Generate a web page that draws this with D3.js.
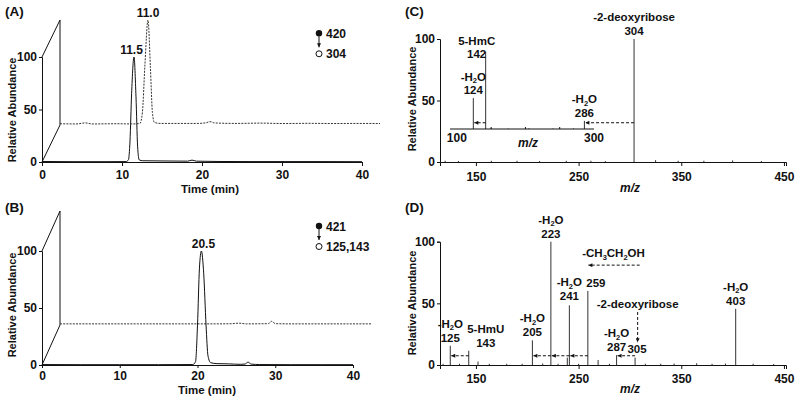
<!DOCTYPE html>
<html>
<head>
<meta charset="utf-8">
<script src="https://cdn.jsdelivr.net/npm/d3@7"></script>
<style>
body{margin:0;background:#fff}
text{font-family:"Liberation Sans",Arial,sans-serif;font-weight:bold;fill:#111;font-size:11.5px}
.trace{fill:none;stroke:#111;stroke-width:1}
.back{fill:none;stroke:#333;stroke-width:1;stroke-dasharray:2,1.2}
.frame{stroke:#111;stroke-width:1;fill:none}
.peak{stroke:#333;stroke-width:1}
.arrow{stroke:#111;stroke-width:1;stroke-dasharray:3,2;fill:none}
.axis path,.axis line{stroke:#111}
</style>
</head>
<body>
<script>
var w = 800;
var h = 401;
var svg = d3.select("body")
	.append("svg")
	.attr("width", w)
	.attr("height", h);

// ---- data ----
var timeTicks = [0,10,20,30,40];
var abTicks = [0,50,100];
var mzTicks = [150,250,350,450];
var insetTicks = [100,300];
var insetMinor = [150,200,250];

// (A) 420 -> 304, front trace (solid) and back trace (dashed) : [min, %]
var chromAFront = [[0,0.5],[4,0.3],[8,0.3],[10.5,0.4],[10.8,2],[11.0,20],[11.2,65],[11.5,100],[11.75,62],[11.95,15],[12.15,2],[12.6,1.2],[15,1],[18.2,0.8],[18.75,1.8],[19.3,0.8],[22,0.5],[26,0.4],[30,0.4],[35,0.4],[40,0.3]];
var chromABack = [[0,1.2],[2,1],[3.2,2],[4,1],[7,1.2],[9,1],[10.0,1.5],[10.3,12],[10.6,55],[11.0,100],[11.3,55],[11.55,12],[11.8,2.5],[12.5,1.5],[15,1.5],[17,1.5],[18.2,2],[18.75,3.2],[19.3,2],[22,1.5],[25,1.8],[28,1.4],[31,1.6],[34,1.4],[37,1.5],[40,1.4]];
// (B) 421 -> 125,143
var chromBFront = [[0,0.4],[5,0.3],[10,0.3],[15,0.3],[19.4,0.4],[19.75,3],[20.0,35],[20.25,85],[20.5,100],[20.8,80],[21.1,35],[21.35,8],[21.7,2],[22.5,1.2],[24,1],[25.5,0.6],[26.1,0.8],[26.5,2.5],[26.9,0.8],[28,0.4],[32,0.3],[36,0.3],[40,0.3]];
var chromBBack = [[0,1],[5,1],[10,1],[15,1],[20,1],[22,1.1],[23,1.6],[24,1],[26,1.1],[26.8,1.2],[27.2,3.2],[27.7,1.2],[29,1],[33,1],[37,1],[40,1]];

// (C) product ions of 420 -> 304 : [m/z, %]
var specC = [[120,1],[133,0.8],[165,1],[190,1],[212,0.8],[238,1],[262,1],[276,0.8],[304,100],[325,1.5],[347,1],[372,1],[400,1.3],[428,0.8]];
var specCInset = [[124,40],[142,100],[286,10.5],[150,0.8],[175,0.6],[205,0.8],[240,0.6],[270,0.8]];
// (D) product ions of 421
var specD = [[118,1],[125,15.6],[134,1],[143,11.6],[152,2.8],[163,1],[180,1],[195,1],[205,20],[215,1.2],[223,100],[230,1],[239,6],[241,48.4],[250,1],[259,60],[269,4],[280,1],[287,8],[305,6],[315,1],[330,1],[343,1.2],[365,1.4],[380,1],[393,1.2],[403,45.6],[420,1],[440,0.8]];

// peak annotations : m/z, label lines
var labelsC = [{mz:304, lines:["-2-deoxyribose","304"]}];
var labelsCInset = [{mz:124, lines:["-H_2O","124"]},{mz:142, lines:["5-HmC","142"], dx:-9, dy:10.5},{mz:286, lines:["-H_2O","286"]}];
var labelsD = [
	{mz:125, lines:["-H_2O","125"]},
	{mz:143, lines:["5-HmU","143"], dx:17},
	{mz:205, lines:["-H_2O","205"]},
	{mz:223, lines:["-H_2O","223"]},
	{mz:241, lines:["-H_2O","241"], dy:-1},
	{mz:287, lines:["-H_2O","287"]},
	{mz:403, lines:["-H_2O","403"]}
];

// ---- helpers ----
var defs = svg.append("defs");
defs.append("marker")
	.attr("id","ah")
	.attr("viewBox","0 0 6 6")
	.attr("refX",6).attr("refY",3)
	.attr("markerWidth",5).attr("markerHeight",4)
	.attr("markerUnits","userSpaceOnUse")
	.attr("orient","auto")
	.append("path").attr("d","M0,0L6,3L0,6z").attr("fill","#111");

// "_" makes the next character a subscript
function richText(t, str){
	var parts = str.split("_");
	t.append("tspan").text(parts[0]);
	for (var i = 1; i < parts.length; i++) {
		t.append("tspan").attr("dy",2.5).style("font-size","7.5px").text(parts[i][0]);
		t.append("tspan").attr("dy",-2.5).text(parts[i].slice(1));
	}
}

function label(g, x, y, lines, gap){
	for (var i = 0; i < lines.length; i++) {
		var t = g.append("text")
			.attr("x", x)
			.attr("y", y - (lines.length-1-i)*gap)
			.attr("text-anchor","middle");
		richText(t, lines[i]);
	}
}

function panelLetter(x, y, s){
	svg.append("text").attr("x",x).attr("y",y).style("font-size","13.5px").text(s);
}

function yTitle(x, y){
	svg.append("text")
		.attr("transform","translate("+x+","+y+") rotate(-90)")
		.attr("text-anchor","middle")
		.style("font-size","11px")
		.text("Relative Abundance");
}

function styleAxis(g){
	g.selectAll("text").style("font-size","12px").style("font-family",null).attr("fill","#111");
}

// ---- chromatogram panel ----
function chromPanel(o){
	var x = d3.scaleLinear().domain([0,40]).range(o.xr);
	var y = d3.scaleLinear().domain([0,100]).range(o.yr);
	var g = svg.append("g");
	var dx = o.off[0], dy = o.off[1];

	// 3d frame
	g.append("line").attr("class","frame")
		.attr("x1",x(0)).attr("y1",y(100)).attr("x2",x(0)+dx).attr("y2",y(100)+dy);
	g.append("line").attr("class","frame")
		.attr("x1",x(0)).attr("y1",y(0)).attr("x2",x(0)+dx).attr("y2",y(0)+dy);
	g.append("line").attr("class","frame")
		.attr("x1",x(0)+dx).attr("y1",y(0)+dy).attr("x2",x(0)+dx).attr("y2",y(100)+dy);

	var line = d3.line()
		.x(function(d){ return x(d[0]); })
		.y(function(d){ return y(d[1]); })
		.curve(d3.curveMonotoneX);

	var back = g.append("g").attr("transform","translate("+dx+","+dy+")");
	back.append("path").attr("class","back").attr("d", line(o.back));
	g.append("path").attr("class","trace").attr("d", line(o.front));

	g.append("g").attr("class","axis")
		.attr("transform","translate(0,"+y(0)+")")
		.call(d3.axisBottom(x).tickValues(timeTicks).tickSizeOuter(0).tickSize(o.tk).tickPadding(o.tp))
		.call(styleAxis);
	g.append("g").attr("class","axis")
		.attr("transform","translate("+x(0)+",0)")
		.call(d3.axisLeft(y).tickValues(abTicks).tickSizeOuter(0).tickSize(3).tickPadding(2))
		.call(styleAxis);

	// retention time labels
	o.peaks.forEach(function(p){
		var ox = p.back ? dx : 0, oy = p.back ? dy : 0;
		g.append("text")
			.attr("x", x(p.t)+ox+(p.dx||0))
			.attr("y", y(p.v)+oy-3)
			.attr("text-anchor","middle")
			.style("font-size","12px")
			.text(p.text);
	});

	// transition legend
	var lx = o.legend[0], ly = o.legend[1];
	g.append("circle").attr("cx",lx).attr("cy",ly).attr("r",3.2).attr("fill","#111");
	g.append("line").attr("x1",lx).attr("y1",ly+3).attr("x2",lx).attr("y2",ly+14)
		.attr("stroke","#111").attr("marker-end","url(#ah)");
	g.append("circle").attr("cx",lx).attr("cy",ly+20.5).attr("r",3).attr("fill","#fff").attr("stroke","#111");
	g.append("text").attr("x",lx+7).attr("y",ly+4.5).style("font-size","12px").text(o.ions[0]);
	g.append("text").attr("x",lx+7).attr("y",ly+25).style("font-size","12px").text(o.ions[1]);

	g.append("text").attr("x",o.xt[0]).attr("y",o.xt[1]).attr("text-anchor","middle")
		.style("font-size","11.5px").text("Time (min)");
}

// ---- spectrum panel ----
function specPanel(o){
	var x = d3.scaleLinear().domain([115,452]).range([440,786]);
	var y = d3.scaleLinear().domain([0,100]).range(o.yr);
	var g = svg.append("g");

	g.selectAll("line.peak")
		.data(o.data)
		.enter()
		.append("line")
		.attr("class","peak")
		.attr("x1",function(d){ return x(d[0]); })
		.attr("x2",function(d){ return x(d[0]); })
		.attr("y1",y(0))
		.attr("y2",function(d){ return y(d[1]); });

	g.append("g").attr("class","axis")
		.attr("transform","translate(0,"+y(0)+")")
		.call(d3.axisBottom(x).tickValues(mzTicks).tickSizeOuter(0).tickSize(4).tickPadding(o.tp))
		.call(styleAxis);
	g.append("g").attr("class","axis")
		.attr("transform","translate("+x(115)+",0)")
		.call(d3.axisLeft(y).tickValues(abTicks).tickSizeOuter(0).tickSize(3).tickPadding(2))
		.call(styleAxis);

	o.labels.forEach(function(l){
		var v = o.data.filter(function(d){ return d[0]==l.mz; })[0][1];
		label(g, x(l.mz)+(l.dx||0), y(v)-4+(l.dy||0), l.lines, l.gap||14);
	});

	g.append("text").attr("x",630).attr("y",o.xt).attr("text-anchor","middle")
		.style("font-style","italic").style("font-size","12px").text("m/z");
	return {g:g, x:x, y:y};
}

// ================= (A) =================
panelLetter(5,16,"(A)");
yTitle(16,110);
chromPanel({
	xr:[42,362], yr:[162,57], off:[18,-37], tk:4, tp:4,
	front:chromAFront, back:chromABack,
	peaks:[{t:11.5,v:100,text:"11.5",dx:-2.5},{t:11.0,v:100,text:"11.0",back:true}],
	legend:[319,33.3], ions:["420","304"], xt:[210,192.5]
});

// ================= (B) =================
panelLetter(5,212,"(B)");
yTitle(16,305);
chromPanel({
	xr:[42,353], yr:[365,251], off:[18,-40], tk:3, tp:3,
	front:chromBFront, back:chromBBack,
	peaks:[{t:20.5,v:100,text:"20.5",dx:2}],
	legend:[319,226], ions:["421","125,143"], xt:[207,393.5]
});

// ================= (C) =================
panelLetter(405,16,"(C)");
yTitle(416,99);
var pc = specPanel({yr:[162,39], data:specC, labels:labelsC, tp:6, xt:192});

// inset of (C)
var xi = d3.scaleLinear().domain([90,300]).range([450,594]);
var yi = d3.scaleLinear().domain([0,100]).range([129,51.7]);
var gi = pc.g.append("g");
gi.selectAll("line.peak")
	.data(specCInset)
	.enter()
	.append("line")
	.attr("class","peak")
	.attr("x1",function(d){ return xi(d[0]); })
	.attr("x2",function(d){ return xi(d[0]); })
	.attr("y1",yi(0))
	.attr("y2",function(d){ return yi(d[1]); });
gi.append("line").attr("stroke","#111")
	.attr("x1",xi(90)).attr("x2",xi(300)).attr("y1",yi(0)).attr("y2",yi(0));
gi.selectAll("line.minor")
	.data(insetMinor)
	.enter()
	.append("line")
	.attr("stroke","#111")
	.attr("x1",function(d){ return xi(d); })
	.attr("x2",function(d){ return xi(d); })
	.attr("y1",yi(0)).attr("y2",yi(0)-2);
gi.selectAll("text.tick")
	.data(insetTicks)
	.enter()
	.append("text")
	.attr("x",function(d){ return xi(d); })
	.attr("y",yi(0)+13)
	.attr("text-anchor","middle")
	.style("font-size","12px")
	.text(function(d){ return d; });
gi.append("text").attr("x",528).attr("y",147).attr("text-anchor","middle")
	.style("font-style","italic").style("font-size","12px").text("m/z");
labelsCInset.forEach(function(l){
	var v = specCInset.filter(function(d){ return d[0]==l.mz; })[0][1];
	label(gi, xi(l.mz)+(l.dx||0), yi(v)-4+(l.dy||0), l.lines, 13.5);
});
// neutral loss arrows (C)
gi.append("line").attr("class","arrow").attr("marker-end","url(#ah)")
	.attr("x1",pc.x(304)).attr("x2",xi(286)+1).attr("y1",yi(8.1)).attr("y2",yi(8.1));
gi.append("line").attr("class","arrow").attr("marker-end","url(#ah)")
	.attr("x1",xi(142)).attr("x2",xi(124)+1).attr("y1",yi(8.1)).attr("y2",yi(8.1));

// ================= (D) =================
panelLetter(405,212,"(D)");
yTitle(416,303);
var pd = specPanel({yr:[365,241.7], data:specD, labels:labelsD, tp:5, xt:393});
// extra labels of (D)
pd.g.append("text").attr("x",pd.x(259)+8).attr("y",pd.y(60)-4).attr("text-anchor","middle").text("259");
pd.g.append("text").attr("x",pd.x(305)+2).attr("y",pd.y(6)-4.5).attr("text-anchor","middle").text("305");
pd.g.append("text").attr("x",pd.x(307.5)).attr("y",pd.y(46.5)).attr("text-anchor","middle").text("-2-deoxyribose");
var tc = pd.g.append("text").attr("x",pd.x(284)).attr("y",pd.y(87.4)).attr("text-anchor","middle");
richText(tc,"-CH_3CH_2OH");

var lossD = [[143,125],[259,241],[241,223],[223,205],[305,287]];
pd.g.selectAll("line.loss")
	.data(lossD)
	.enter()
	.append("line")
	.attr("class","arrow")
	.attr("marker-end","url(#ah)")
	.attr("x1",function(d){ return pd.x(d[0]); })
	.attr("x2",function(d){ return pd.x(d[1])+1; })
	.attr("y1",pd.y(7.5)).attr("y2",pd.y(7.5));
pd.g.append("line").attr("class","arrow").attr("marker-end","url(#ah)")
	.attr("x1",pd.x(309.5)).attr("x2",pd.x(259.5)).attr("y1",pd.y(81)).attr("y2",pd.y(81));
pd.g.append("line").attr("class","arrow").attr("marker-end","url(#ah)")
	.attr("x1",pd.x(307.5)).attr("x2",pd.x(307.5)).attr("y1",pd.y(43)).attr("y2",pd.y(18.5));
</script>
</body>
</html>
